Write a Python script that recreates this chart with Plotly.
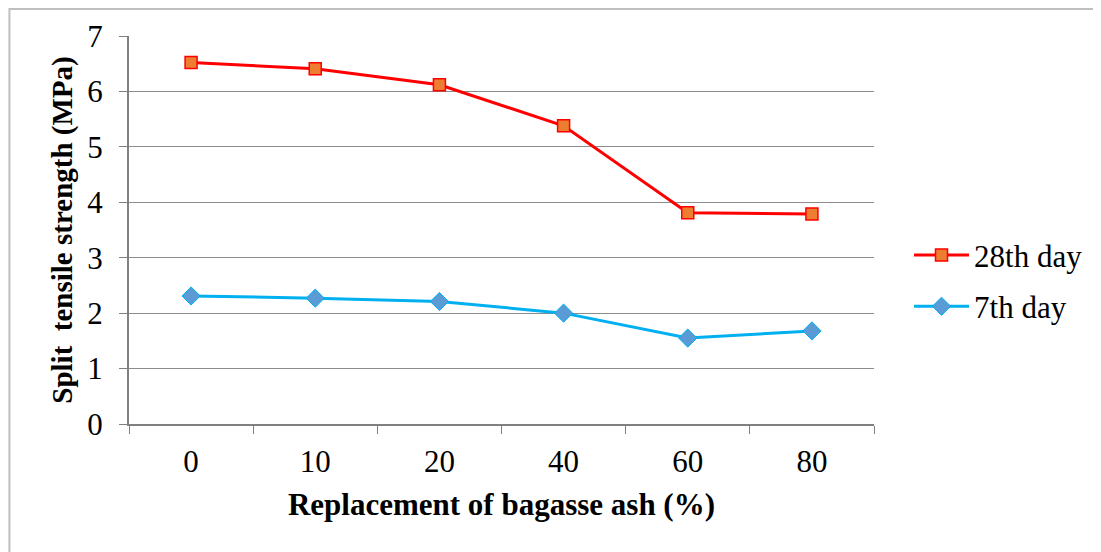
import plotly.graph_objects as go

# Data
replacement = ["0", "10", "20", "40", "60", "80"]
day28 = [6.52, 6.41, 6.12, 5.38, 3.81, 3.79]
day7 = [2.31, 2.27, 2.21, 2.00, 1.55, 1.68]

FONT = "Liberation Serif, Times New Roman, serif"

fig = go.Figure()

fig.add_trace(go.Scatter(
    x=replacement, y=day28,
    mode="lines+markers",
    name="28th day", legendgroup="d28",
    line=dict(color="#FF0000", width=3),
    marker=dict(symbol="square", size=12, color="#ED7D31",
                line=dict(color="#FF0000", width=1.5)),
))

fig.add_trace(go.Scatter(
    x=replacement, y=day7,
    mode="lines+markers",
    name="7th day", legendgroup="d7",
    line=dict(color="#00B0F0", width=3),
    marker=dict(symbol="diamond", size=14, color="#5B9BD5",
                line=dict(color="#00B0F0", width=1)),
))

# page has an 8px body margin, so the figure is drawn 8px in from the top-left
fig.update_layout(
    width=1093, height=544,
    margin=dict(l=121, r=227, t=28, b=128),
    paper_bgcolor="white",
    plot_bgcolor="white",
    font=dict(family=FONT, size=31, color="black"),
    showlegend=True,
    legend=dict(
        x=1.047, y=0.369, xanchor="left", yanchor="middle",
        font=dict(family=FONT, size=31),
        itemwidth=55, tracegroupgap=8,
        bgcolor="rgba(0,0,0,0)",
    ),
    shapes=[dict(type="rect", xref="paper", yref="paper",
                 x0=-0.1605, x1=1.5, y0=-0.5, y1=1.0696,
                 line=dict(color="#BFBFBF", width=2))],
)

fig.update_xaxes(
    type="category",
    range=[-0.5, 5.5],
    tickson="boundaries",
    ticks="outside", ticklen=8, tickcolor="#808080",
    showline=True, linecolor="#808080", linewidth=2,
    showgrid=False,
    tickfont=dict(family=FONT, size=31),
    ticklabelstandoff=9,
    title=dict(text="<b>Replacement of bagasse ash (%)</b>",
               font=dict(family=FONT, size=31), standoff=15),
)

fig.update_yaxes(
    range=[0, 7], dtick=1,
    ticks="outside", ticklen=8, tickcolor="#808080",
    showline=True, linecolor="#808080", linewidth=2,
    showgrid=True, gridcolor="#8C8C8C", gridwidth=1,
    zeroline=False,
    tickfont=dict(family=FONT, size=31),
    ticklabelstandoff=10,
    title=dict(text="<b>Split  tensile strength (MPa)</b>",
               font=dict(family=FONT, size=29), standoff=6),
)

fig.write_html("out.html")
